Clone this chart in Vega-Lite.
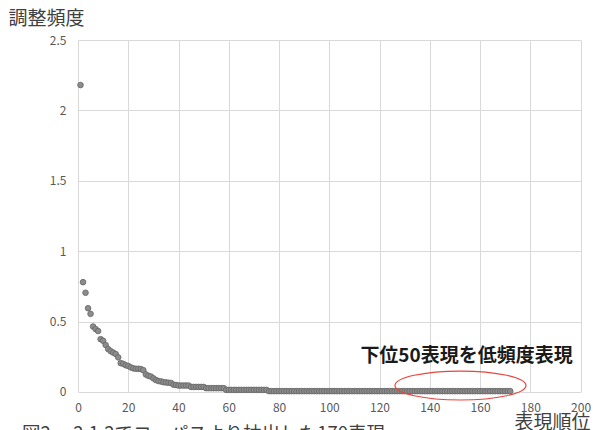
{
  "$schema": "https://vega.github.io/schema/vega-lite/v6.json",
  "width": 502.6,
  "height": 352,
  "autosize": "none",
  "padding": {"left": 78, "top": 40, "right": 14, "bottom": 38},
  "background": "white",
  "config": {
    "font": "Noto Sans CJK JP",
    "view": {"stroke": null}
  },
  "title": {
    "text": "図2　  2.1.2でコーパスより抽出した170表現",
    "orient": "bottom",
    "anchor": "start",
    "frame": "group",
    "fontSize": 18.5,
    "fontWeight": "normal",
    "color": "#404040",
    "dx": -56,
    "offset": -8,
    "baseline": "top"
  },
  "datasets": {
    "pts": [
      {"rank": 1, "freq": 2.18}, {"rank": 2, "freq": 0.78}, {"rank": 3, "freq": 0.705}, {"rank": 4, "freq": 0.595},
      {"rank": 5, "freq": 0.555}, {"rank": 6, "freq": 0.465}, {"rank": 7, "freq": 0.447}, {"rank": 8, "freq": 0.433},
      {"rank": 9, "freq": 0.375}, {"rank": 10, "freq": 0.364}, {"rank": 11, "freq": 0.334}, {"rank": 12, "freq": 0.305},
      {"rank": 13, "freq": 0.29}, {"rank": 14, "freq": 0.28}, {"rank": 15, "freq": 0.27}, {"rank": 16, "freq": 0.246},
      {"rank": 17, "freq": 0.205}, {"rank": 18, "freq": 0.2}, {"rank": 19, "freq": 0.19}, {"rank": 20, "freq": 0.185},
      {"rank": 21, "freq": 0.175}, {"rank": 22, "freq": 0.168}, {"rank": 23, "freq": 0.165}, {"rank": 24, "freq": 0.165},
      {"rank": 25, "freq": 0.163}, {"rank": 26, "freq": 0.155}, {"rank": 27, "freq": 0.125}, {"rank": 28, "freq": 0.115},
      {"rank": 29, "freq": 0.11}, {"rank": 30, "freq": 0.097}, {"rank": 31, "freq": 0.085}, {"rank": 32, "freq": 0.078},
      {"rank": 33, "freq": 0.075}, {"rank": 34, "freq": 0.07}, {"rank": 35, "freq": 0.068}, {"rank": 36, "freq": 0.066},
      {"rank": 37, "freq": 0.064}, {"rank": 38, "freq": 0.052}, {"rank": 39, "freq": 0.05}, {"rank": 40, "freq": 0.046},
      {"rank": 41, "freq": 0.046}, {"rank": 42, "freq": 0.046}, {"rank": 43, "freq": 0.046}, {"rank": 44, "freq": 0.046},
      {"rank": 45, "freq": 0.036}, {"rank": 46, "freq": 0.036}, {"rank": 47, "freq": 0.036}, {"rank": 48, "freq": 0.036},
      {"rank": 49, "freq": 0.036}, {"rank": 50, "freq": 0.036}, {"rank": 51, "freq": 0.027}, {"rank": 52, "freq": 0.027},
      {"rank": 53, "freq": 0.027}, {"rank": 54, "freq": 0.027}, {"rank": 55, "freq": 0.027}, {"rank": 56, "freq": 0.027},
      {"rank": 57, "freq": 0.027}, {"rank": 58, "freq": 0.027}, {"rank": 59, "freq": 0.015}, {"rank": 60, "freq": 0.015},
      {"rank": 61, "freq": 0.015}, {"rank": 62, "freq": 0.015}, {"rank": 63, "freq": 0.015}, {"rank": 64, "freq": 0.015},
      {"rank": 65, "freq": 0.015}, {"rank": 66, "freq": 0.015}, {"rank": 67, "freq": 0.015}, {"rank": 68, "freq": 0.015},
      {"rank": 69, "freq": 0.015}, {"rank": 70, "freq": 0.015}, {"rank": 71, "freq": 0.015}, {"rank": 72, "freq": 0.015},
      {"rank": 73, "freq": 0.015}, {"rank": 74, "freq": 0.015}, {"rank": 75, "freq": 0.015}, {"rank": 76, "freq": 0.006},
      {"rank": 77, "freq": 0.006}, {"rank": 78, "freq": 0.006}, {"rank": 79, "freq": 0.006}, {"rank": 80, "freq": 0.006},
      {"rank": 81, "freq": 0.006}, {"rank": 82, "freq": 0.006}, {"rank": 83, "freq": 0.006}, {"rank": 84, "freq": 0.006},
      {"rank": 85, "freq": 0.006}, {"rank": 86, "freq": 0.006}, {"rank": 87, "freq": 0.006}, {"rank": 88, "freq": 0.006},
      {"rank": 89, "freq": 0.006}, {"rank": 90, "freq": 0.006}, {"rank": 91, "freq": 0.006}, {"rank": 92, "freq": 0.006},
      {"rank": 93, "freq": 0.006}, {"rank": 94, "freq": 0.006}, {"rank": 95, "freq": 0.006}, {"rank": 96, "freq": 0.006},
      {"rank": 97, "freq": 0.006}, {"rank": 98, "freq": 0.006}, {"rank": 99, "freq": 0.006}, {"rank": 100, "freq": 0.006},
      {"rank": 101, "freq": 0.006}, {"rank": 102, "freq": 0.006}, {"rank": 103, "freq": 0.006}, {"rank": 104, "freq": 0.006},
      {"rank": 105, "freq": 0.006}, {"rank": 106, "freq": 0.006}, {"rank": 107, "freq": 0.006}, {"rank": 108, "freq": 0.006},
      {"rank": 109, "freq": 0.006}, {"rank": 110, "freq": 0.006}, {"rank": 111, "freq": 0.006}, {"rank": 112, "freq": 0.006},
      {"rank": 113, "freq": 0.006}, {"rank": 114, "freq": 0.006}, {"rank": 115, "freq": 0.006}, {"rank": 116, "freq": 0.006},
      {"rank": 117, "freq": 0.006}, {"rank": 118, "freq": 0.006}, {"rank": 119, "freq": 0.006}, {"rank": 120, "freq": 0.006},
      {"rank": 121, "freq": 0.006}, {"rank": 122, "freq": 0.006}, {"rank": 123, "freq": 0.006}, {"rank": 124, "freq": 0.006},
      {"rank": 125, "freq": 0.006}, {"rank": 126, "freq": 0.006}, {"rank": 127, "freq": 0.006}, {"rank": 128, "freq": 0.006},
      {"rank": 129, "freq": 0.006}, {"rank": 130, "freq": 0.006}, {"rank": 131, "freq": 0.006}, {"rank": 132, "freq": 0.006},
      {"rank": 133, "freq": 0.006}, {"rank": 134, "freq": 0.006}, {"rank": 135, "freq": 0.006}, {"rank": 136, "freq": 0.006},
      {"rank": 137, "freq": 0.006}, {"rank": 138, "freq": 0.006}, {"rank": 139, "freq": 0.006}, {"rank": 140, "freq": 0.006},
      {"rank": 141, "freq": 0.006}, {"rank": 142, "freq": 0.006}, {"rank": 143, "freq": 0.006}, {"rank": 144, "freq": 0.006},
      {"rank": 145, "freq": 0.006}, {"rank": 146, "freq": 0.006}, {"rank": 147, "freq": 0.006}, {"rank": 148, "freq": 0.006},
      {"rank": 149, "freq": 0.006}, {"rank": 150, "freq": 0.006}, {"rank": 151, "freq": 0.006}, {"rank": 152, "freq": 0.006},
      {"rank": 153, "freq": 0.006}, {"rank": 154, "freq": 0.006}, {"rank": 155, "freq": 0.006}, {"rank": 156, "freq": 0.006},
      {"rank": 157, "freq": 0.006}, {"rank": 158, "freq": 0.006}, {"rank": 159, "freq": 0.006}, {"rank": 160, "freq": 0.006},
      {"rank": 161, "freq": 0.006}, {"rank": 162, "freq": 0.006}, {"rank": 163, "freq": 0.006}, {"rank": 164, "freq": 0.006},
      {"rank": 165, "freq": 0.006}, {"rank": 166, "freq": 0.006}, {"rank": 167, "freq": 0.006}, {"rank": 168, "freq": 0.006},
      {"rank": 169, "freq": 0.006}, {"rank": 170, "freq": 0.006}, {"rank": 171, "freq": 0.006}, {"rank": 172, "freq": 0.006}
    ],
    "note": [{"rank": 154.6, "freq": 0.255, "label": "下位50表現を低頻度表現"}],
    "oval": [{"rank": 152.2, "freq": 0.046}]
  },
  "encoding": {
    "x": {
      "field": "rank", "type": "quantitative",
      "scale": {"domain": [0, 200], "nice": false, "zero": false},
      "axis": {
        "title": "表現順位",
        "values": [0, 20, 40, 60, 80, 100, 120, 140, 160, 180, 200],
        "grid": true, "gridColor": "#d9d9d9", "gridWidth": 1,
        "domain": false, "ticks": false, "tickSize": 0,
        "labelPadding": 11, "labelFontSize": 12, "labelColor": "#595959",
        "labelFlush": false,
        "titleFontSize": 19, "titleFontWeight": "normal", "titleColor": "#404040",
        "titleAnchor": "end", "titleAlign": "right", "titleBaseline": "bottom",
        "titleX": 512, "titleY": 41
      }
    },
    "y": {
      "field": "freq", "type": "quantitative",
      "scale": {"domain": [0, 2.5], "nice": false},
      "axis": {
        "title": "調整頻度",
        "values": [0, 0.5, 1, 1.5, 2, 2.5],
        "format": "~g",
        "grid": true, "gridColor": "#d9d9d9", "gridWidth": 1,
        "domain": false, "ticks": false, "tickSize": 0,
        "labelPadding": 12, "labelFontSize": 12, "labelColor": "#595959",
        "labelFlush": false,
        "titleFontSize": 19, "titleFontWeight": "normal", "titleColor": "#404040",
        "titleAngle": 0, "titleAlign": "left", "titleBaseline": "top",
        "titleX": -70, "titleY": -31
      }
    }
  },
  "layer": [
    {
      "data": {"name": "pts"},
      "mark": {"type": "point", "shape": "circle", "filled": true, "size": 32, "fill": "#8c8c8c", "stroke": "#666666", "strokeWidth": 0.8, "opacity": 1}
    },
    {
      "data": {"name": "oval"},
      "mark": {
        "type": "point", "filled": false, "size": 17161, "stroke": "#e8453c", "strokeWidth": 1.2, "opacity": 1,
        "shape": "M -1 0 C -1 -0.122 -0.552 -0.221 0 -0.221 C 0.552 -0.221 1 -0.122 1 0 C 1 0.122 0.552 0.221 0 0.221 C -0.552 0.221 -1 0.122 -1 0 Z"
      }
    },
    {
      "data": {"name": "note"},
      "mark": {"type": "text", "fontSize": 19, "fontWeight": "bold", "color": "#1a1a1a", "align": "center", "baseline": "middle"},
      "encoding": {"text": {"field": "label"}}
    }
  ]
}
